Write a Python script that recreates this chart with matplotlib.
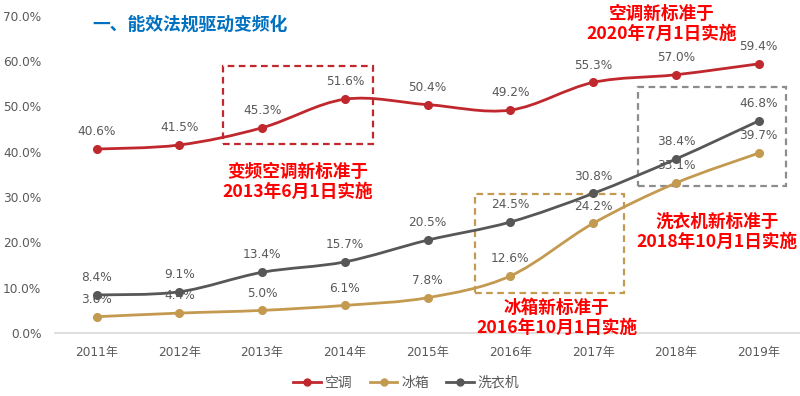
import numpy as np
import matplotlib
matplotlib.use('Agg')
import matplotlib.pyplot as plt
from matplotlib.path import Path
from matplotlib.patches import PathPatch, Rectangle
from matplotlib.lines import Line2D

plt.rcParams['font.family'] = ['Noto Sans CJK SC', 'DejaVu Sans']
num_font = ['DejaVu Sans', 'Noto Sans CJK SC']

years = ['2011年', '2012年', '2013年', '2014年', '2015年', '2016年', '2017年', '2018年', '2019年']
kongtiao = [40.6, 41.5, 45.3, 51.6, 50.4, 49.2, 55.3, 57.0, 59.4]
bingxiang = [3.6, 4.4, 5.0, 6.1, 7.8, 12.6, 24.2, 33.1, 39.7]
xiyiji = [8.4, 9.1, 13.4, 15.7, 20.5, 24.5, 30.8, 38.4, 46.8]

series_names = ['空调', '冰箱', '洗衣机']
colors = ['#C0282D', '#C39A50', '#575757']
grey_txt = '#595959'
red_txt = '#FF0000'


def smooth_path(xs, ys):
    # Excel-like smoothed line: bezier segments, control points from neighbours
    pts = np.column_stack([xs, ys]).astype(float)
    n = len(pts)
    verts = [pts[0]]
    codes = [Path.MOVETO]
    for i in range(n - 1):
        p0 = pts[i - 1] if i > 0 else pts[i]
        p1 = pts[i]
        p2 = pts[i + 1]
        p3 = pts[i + 2] if i + 2 < n else pts[i + 1]
        c1 = p1 + (p2 - p0) / 6.0
        c2 = p2 - (p3 - p1) / 6.0
        verts += [c1, c2, p2]
        codes += [Path.CURVE4] * 3
    return Path(verts, codes)


fig = plt.figure(figsize=(8, 3.96), dpi=100)
ax = fig.add_axes([0.069, 0.159, 0.931, 0.801])

x = np.arange(len(years))
for vals, c in zip([kongtiao, bingxiang, xiyiji], colors):
    ax.add_patch(PathPatch(smooth_path(x, vals), facecolor='none', edgecolor=c, lw=2.0,
                           capstyle='round', zorder=3))
    ax.plot(x, vals, 'o', color=c, ms=5.5, zorder=4)
    for xi, v in zip(x, vals):
        ax.annotate(f'{v:.1f}%', (xi, v), xytext=(0, 12.5), textcoords='offset points',
                    ha='center', va='center', fontsize=8.7, color=grey_txt, zorder=5,
                    family=num_font)

ax.set_xlim(-0.5, len(years) - 0.5)
ax.set_ylim(0, 70)
ax.set_yticks(np.arange(0, 71, 10))
ax.set_yticklabels([f'{v:.1f}%' for v in np.arange(0, 71, 10)], family=num_font)
ax.set_xticks(x)
ax.set_xticklabels(years, family=num_font)
ax.tick_params(axis='both', length=0, labelsize=8.7, labelcolor=grey_txt)
ax.tick_params(axis='y', pad=10)
ax.tick_params(axis='x', pad=9)
for s in ['top', 'right', 'left']:
    ax.spines[s].set_visible(False)
ax.spines['bottom'].set_color('#D9D9D9')
ax.spines['bottom'].set_linewidth(1.2)

# dashed highlight boxes
boxes = [(1.53, 41.7, 3.34, 58.9, '#C0282D'),
         (4.57, 8.8, 6.37, 30.7, '#C39A50'),
         (6.54, 32.4, 8.33, 54.3, '#8C8C8C')]
for x0, y0, x1, y1, c in boxes:
    ax.add_patch(Rectangle((x0, y0), x1 - x0, y1 - y0, fill=False, edgecolor=c,
                           lw=1.6, ls=(0, (3, 2)), zorder=2, clip_on=False))

notes = [(2.43, 33.3, '变频空调新标准于\n2013年6月1日实施'),
         (6.83, 68.2, '空调新标准于\n2020年7月1日实施'),
         (7.50, 22.3, '洗衣机新标准于\n2018年10月1日实施'),
         (5.56, 3.4, '冰箱新标准于\n2016年10月1日实施')]
for nx, ny, t in notes:
    ax.text(nx, ny, t, ha='center', va='center', fontsize=12.7, fontweight='bold',
            color=red_txt, linespacing=1.12, zorder=6, clip_on=False)

fig.text(0.116, 0.939, '一、能效法规驱动变频化', fontsize=12.8, fontweight='bold',
         color='#0070C0', ha='left', va='center')

handles = [Line2D([], [], color=c, lw=2.0, marker='o', ms=5) for c in colors]
fig.legend(handles, series_names, loc='center', bbox_to_anchor=(0.508, 0.033), ncol=3,
           frameon=False, fontsize=10, labelcolor=grey_txt, handlelength=2.0,
           handletextpad=0.3, columnspacing=1.2)

fig.savefig('out.png', dpi=100)
